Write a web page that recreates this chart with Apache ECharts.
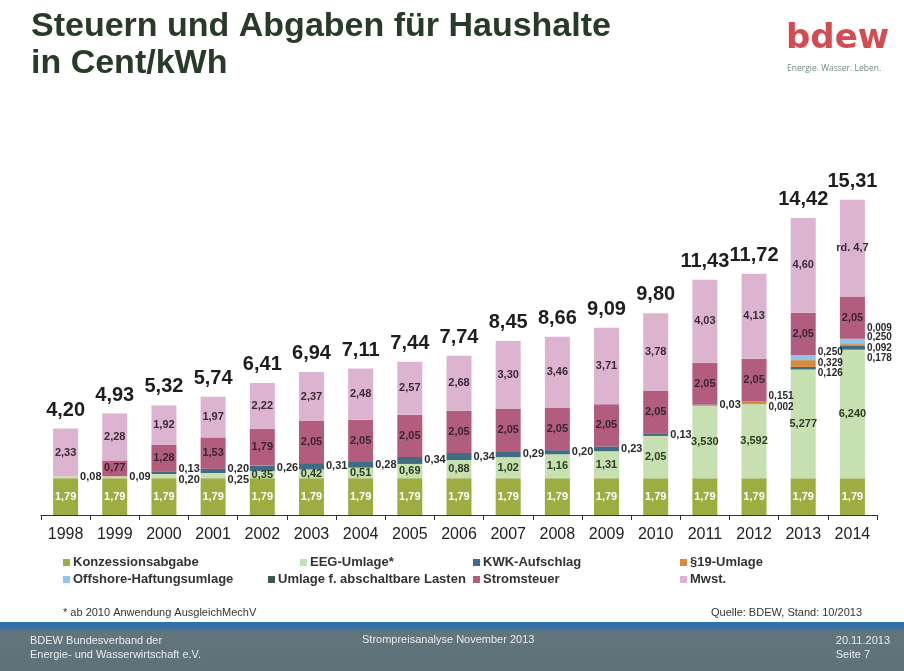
<!DOCTYPE html>
<html>
<head>
<meta charset="utf-8">
<title>Steuern und Abgaben für Haushalte</title>
<script src="https://cdn.jsdelivr.net/npm/echarts@6/dist/echarts.min.js"></script>
<style>
  html, body { margin: 0; padding: 0; background: #fff; }
  #chart { width: 904px; height: 671px; }
</style>
</head>
<body>
<div id="chart"></div>
<script>
var years = ['1998','1999','2000','2001','2002','2003','2004','2005','2006','2007','2008','2009','2010','2011','2012','2013','2014'];
var konzession  = [1.79,1.79,1.79,1.79,1.79,1.79,1.79,1.79,1.79,1.79,1.79,1.79,1.79,1.79,1.79,1.79,1.79];
var eeg         = [0.08,0.09,0.20,0.25,0.35,0.42,0.51,0.69,0.88,1.02,1.16,1.31,2.05,3.530,3.592,5.277,6.240];
var kwk         = [0,0,0.13,0.20,0.26,0.31,0.28,0.34,0.34,0.29,0.20,0.23,0.13,0.03,0.002,0.126,0.178];
var par19       = [0,0,0,0,0,0,0,0,0,0,0,0,0,0,0.151,0.329,0.092];
var offshore    = [0,0,0,0,0,0,0,0,0,0,0,0,0,0,0,0.250,0.250];
var abschaltbar = [0,0,0,0,0,0,0,0,0,0,0,0,0,0,0,0,0.009];
var stromsteuer = [0,0.77,1.28,1.53,1.79,2.05,2.05,2.05,2.05,2.05,2.05,2.05,2.05,2.05,2.05,2.05,2.05];
var mwst        = [2.33,2.28,1.92,1.97,2.22,2.37,2.48,2.57,2.68,3.30,3.46,3.71,3.78,4.03,4.13,4.60,4.70];
var totals      = [4.20,4.93,5.32,5.74,6.41,6.94,7.11,7.44,7.74,8.45,8.66,9.09,9.80,11.43,11.72,14.42,15.31];

// Beschriftungen, die anders als der Wert lauten
var textOverride = { 'Mwst.': { 16: 'rd. 4,7' } };

// Serien, deren Werte immer rechts neben dem Balken stehen
var rightAlways = ['KWK-Aufschlag', '§19-Umlage', 'Offshore-Haftungsumlage', 'Umlage f. abschaltbare Lasten'];

// vertikale Verschiebung der rechten Beschriftungen (px)
var rightShift = {
  'EEG-Umlage*':                   { 0: 0, 1: 0, 2: 4, 3: 4 },
  'KWK-Aufschlag':                 { 2: -4, 3: -2, 14: 3, 15: 5, 16: 10 },
  '§19-Umlage':                    { 14: -6, 15: 0, 16: 3 },
  'Offshore-Haftungsumlage':       { 15: -5, 16: -4 },
  'Umlage f. abschaltbare Lasten': { 16: -11 }
};

function fmt(v, d) {
  return v.toFixed(d).replace('.', ',');
}

function decimals(name, i) {
  if (name == 'Konzessionsabgabe' || name == 'Stromsteuer' || name == 'Mwst.') return 2;
  if (name == 'EEG-Umlage*' && i >= 13) return 3;
  if (i >= 14) return 3;
  return 2;
}

function makeSeries(name, values, color, textColor) {
  var shifts = rightShift[name] || {};
  var always = rightAlways.indexOf(name) >= 0;
  return {
    name: name,
    type: 'bar',
    stack: 'total',
    barWidth: 25,
    itemStyle: { color: color },
    label: {
      show: true,
      position: 'inside',
      color: textColor,
      fontSize: 11,
      fontWeight: 'bold',
      fontFamily: 'Liberation Sans, Arial, sans-serif',
      formatter: function (p) {
        var o = textOverride[name];
        if (o && o[p.dataIndex] !== undefined) return o[p.dataIndex];
        return fmt(p.value, decimals(name, p.dataIndex));
      }
    },
    data: values.map(function (v, i) {
      var item = { value: v };
      if (v === 0) {
        item.label = { show: false };
      } else if (always || shifts[i] !== undefined) {
        item.label = {
          position: 'right',
          distance: 2,
          offset: [0, shifts[i] || 0],
          color: '#2a2a2a',
          fontSize: i >= 14 ? 10 : 11
        };
      }
      return item;
    })
  };
}

var series = [
  makeSeries('Konzessionsabgabe', konzession, '#9dad42', '#ffffff'),
  makeSeries('EEG-Umlage*', eeg, '#c7e0b1', '#2d3d22'),
  makeSeries('KWK-Aufschlag', kwk, '#3f6b83', '#2a2a2a'),
  makeSeries('§19-Umlage', par19, '#d98a3c', '#2a2a2a'),
  makeSeries('Offshore-Haftungsumlage', offshore, '#8cc6ea', '#2a2a2a'),
  makeSeries('Umlage f. abschaltbare Lasten', abschaltbar, '#3e5652', '#2a2a2a'),
  makeSeries('Stromsteuer', stromsteuer, '#b25d7d', '#3a2530'),
  makeSeries('Mwst.', mwst, '#ddb4cf', '#3a2a33')
];

// Summen über den Balken
series.push({
  name: 'Summe',
  type: 'scatter',
  symbolSize: 1,
  itemStyle: { color: 'rgba(0,0,0,0)', opacity: 1 },
  silent: true,
  label: {
    show: true,
    position: 'top',
    distance: 8,
    color: '#1e1e1e',
    fontSize: 20,
    fontWeight: 'bold',
    fontFamily: 'Liberation Sans, Arial, sans-serif',
    formatter: function (p) { return fmt(p.value, 2); }
  },
  data: totals
});

function legendAt(name, left, top) {
  return {
    data: [name],
    left: left,
    top: top,
    padding: 0,
    icon: 'rect',
    itemWidth: 7,
    itemHeight: 7,
    itemGap: 0,
    selectedMode: false,
    textStyle: { fontSize: 13, fontWeight: 'bold', color: '#333', fontFamily: 'Liberation Sans, Arial, sans-serif', padding: [0, 0, 0, -2] }
  };
}

var chart = echarts.init(document.getElementById('chart'));
chart.setOption({
  animation: false,
  backgroundColor: '#ffffff',
  textStyle: { fontFamily: 'Liberation Sans, Arial, sans-serif' },
  grid: { left: 41, right: 27, top: 165, bottom: 156 },
  legend: [
    legendAt('Konzessionsabgabe', 63, 556),
    legendAt('EEG-Umlage*', 300, 556),
    legendAt('KWK-Aufschlag', 473, 556),
    legendAt('§19-Umlage', 680, 556),
    legendAt('Offshore-Haftungsumlage', 63, 573),
    legendAt('Umlage f. abschaltbare Lasten', 268, 573),
    legendAt('Stromsteuer', 473, 573),
    legendAt('Mwst.', 680, 573)
  ],
  xAxis: {
    type: 'category',
    data: years,
    axisLine: { lineStyle: { color: '#333', width: 1 } },
    axisTick: { show: true, length: 5, lineStyle: { color: '#333' } },
    axisLabel: { fontSize: 16, color: '#222', margin: 12 }
  },
  yAxis: {
    type: 'value',
    min: 0,
    max: 17,
    show: false
  },
  series: series,
  graphic: [
    {
      type: 'text', left: 31, top: 8,
      style: {
        text: 'Steuern und Abgaben für Haushalte\nin Cent/kWh',
        font: 'bold 34px "Liberation Sans", Arial, sans-serif',
        lineHeight: 37,
        fill: '#283b28'
      }
    },
    {
      type: 'text', left: 786, top: 22,
      style: { text: 'bdew', font: 'bold 34px "DejaVu Sans", sans-serif', fill: '#d24c52' }
    },
    {
      type: 'text', left: 787, top: 64,
      style: { text: 'Energie. Wasser. Leben.', font: '8.5px "Open Sans", sans-serif', fill: '#6f8a84' }
    },
    {
      type: 'text', left: 63, top: 607,
      style: { text: '* ab 2010 Anwendung AusgleichMechV', font: '11px "Liberation Sans", Arial, sans-serif', fill: '#333' }
    },
    {
      type: 'text', right: 42, top: 607,
      style: { text: 'Quelle: BDEW, Stand: 10/2013', font: '11px "Liberation Sans", Arial, sans-serif', fill: '#333' }
    },
    {
      type: 'rect', left: 0, top: 622,
      shape: { width: 904, height: 49 },
      style: {
        fill: new echarts.graphic.LinearGradient(0, 0, 0, 1, [
          { offset: 0, color: '#2f6fae' },
          { offset: 0.12, color: '#3a74a6' },
          { offset: 0.2, color: '#63757c' },
          { offset: 1, color: '#5e7078' }
        ])
      }
    },
    {
      type: 'text', left: 30, top: 634,
      style: { text: 'BDEW Bundesverband der\nEnergie- und Wasserwirtschaft e.V.', font: '11px "Liberation Sans", Arial, sans-serif', lineHeight: 14, fill: '#e6ecee' }
    },
    {
      type: 'text', left: 362, top: 634,
      style: { text: 'Strompreisanalyse November 2013', font: '11px "Liberation Sans", Arial, sans-serif', fill: '#e6ecee' }
    },
    {
      type: 'text', right: 14, top: 634,
      style: { text: '20.11.2013\nSeite 7', font: '11px "Liberation Sans", Arial, sans-serif', lineHeight: 14, fill: '#e6ecee', align: 'right' }
    }
  ]
});
</script>
</body>
</html>
